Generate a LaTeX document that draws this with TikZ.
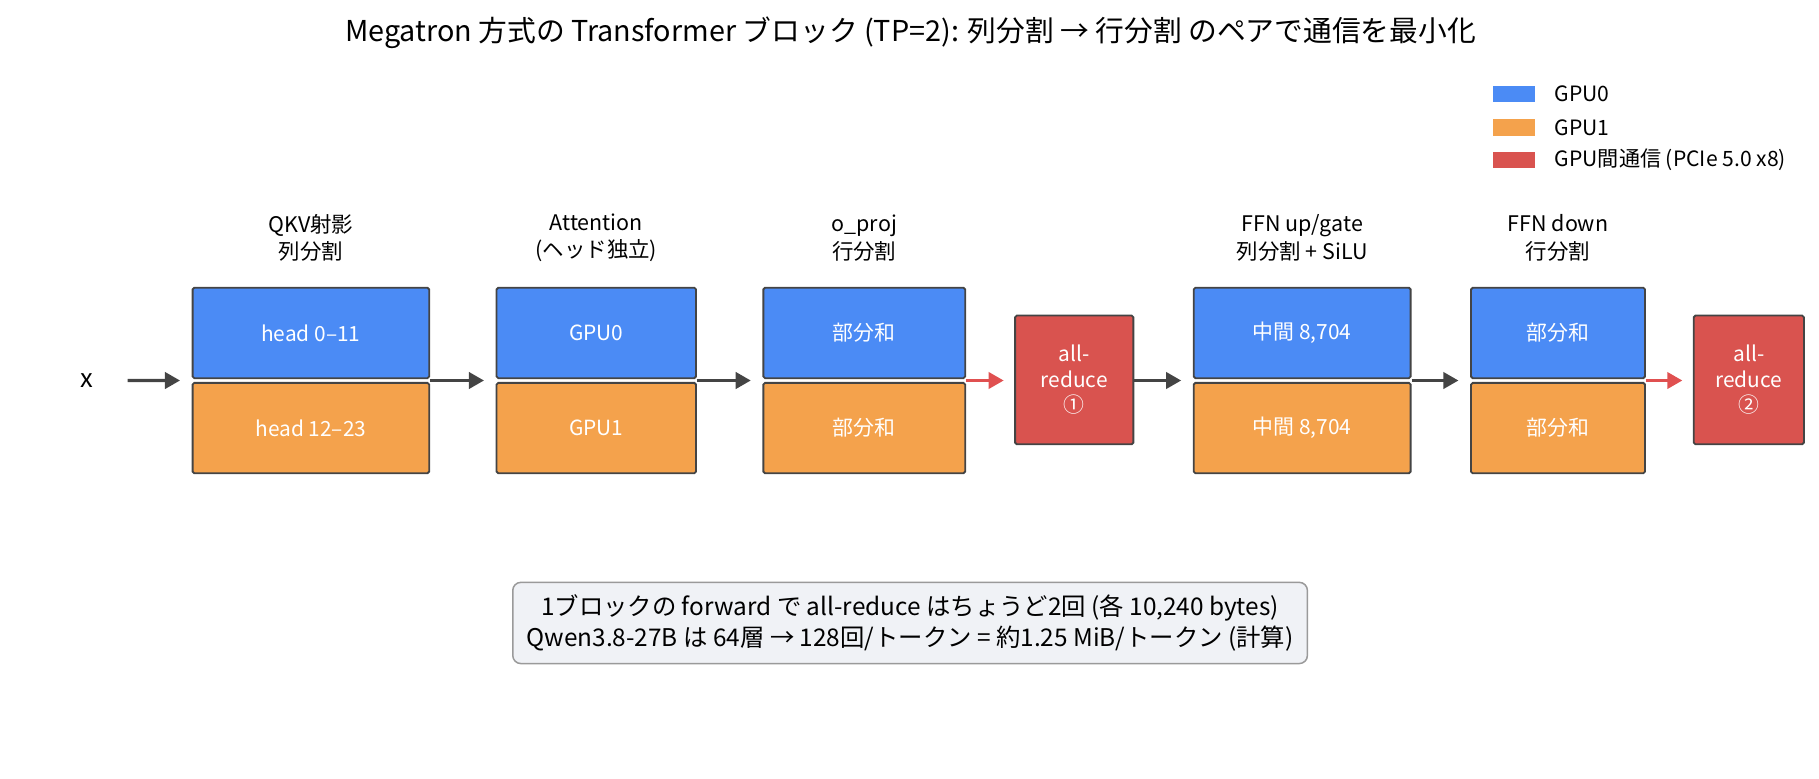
\documentclass[tikz,border=0pt]{standalone}
\usepackage{fontspec}
\setmainfont{Noto Sans CJK JP}
\usetikzlibrary{arrows.meta,calc}
\definecolor{gblue}{HTML}{4B8BF5}
\definecolor{gorange}{HTML}{F4A24C}
\definecolor{gred}{HTML}{D9534F}
\definecolor{edgec}{HTML}{444444}
\definecolor{notefill}{HTML}{F0F2F6}
\definecolor{noteedge}{HTML}{9A9A9A}
\definecolor{arrred}{HTML}{E05050}
\begin{document}
\begin{tikzpicture}[x=1pt,y=-1pt,
  cell/.style={draw=edgec, line width=1.6pt, rounded corners=1.5pt, text=white,
    font=\fontsize{18}{21}\selectfont, inner sep=0pt, minimum height=78pt},
  g0/.style={cell, fill=gblue},
  g1/.style={cell, fill=gorange},
  arbox/.style={draw=edgec, line width=1.6pt, rounded corners=1.5pt, fill=gred, text=white,
    font=\fontsize{18}{22}\selectfont, align=center, inner sep=0pt, minimum height=111pt},
  steplabel/.style={font=\fontsize{18.5}{24}\selectfont, align=center, text=black},
  flow/.style={draw=edgec, line width=2.8pt, -{Triangle[length=13pt,width=14pt]}, shorten >=10pt},
  commflow/.style={draw=arrred, line width=2.8pt, -{Triangle[length=13pt,width=14pt]}, shorten >=9pt},
  swatch/.style={inner sep=0pt, minimum width=36pt, minimum height=14pt},
  legtext/.style={font=\fontsize{18.2}{21}\selectfont, anchor=west, inner sep=0pt},
]
\useasboundingbox (0,0) rectangle (1568,671);

% title
\node[font=\fontsize{24.8}{28}\selectfont] (title) at (785,28) {Megatron 方式の Transformer ブロック (TP=2): 列分割 → 行分割 のペアで通信を最小化};

% legend
\node[swatch, fill=gblue] (lg0) at (1305,81) {};
\node[swatch, fill=gorange] (lg1) at (1305,110) {};
\node[swatch, fill=gred] (lg2) at (1305,138) {};
\node[legtext] (lt0) at (1340,81) {GPU0};
\node[legtext] (lt1) at (1340,110) {GPU1};
\node[legtext] (lt2) at (1340,138) {GPU間通信 (PCIe 5.0 x8)};

% input
\node[font=\fontsize{22}{26}\selectfont] (xin) at (75,328) {x};

% QKV
\node[g0, minimum width=204pt] (q0) at (268,287) {head 0–11};
\node[g1, minimum width=204pt] (q1) at (268,369) {head 12–23};
\node[steplabel] (lq) at (268,205) {QKV射影\\列分割};
% Attention
\node[g0, minimum width=172pt] (a0) at (514,287) {GPU0};
\node[g1, minimum width=172pt] (a1) at (514,369) {GPU1};
\node[steplabel] (la) at (514,205) {Attention\\(ヘッド独立)};
% o_proj
\node[g0, minimum width=174pt] (o0) at (745,287) {部分和};
\node[g1, minimum width=174pt] (o1) at (745,369) {部分和};
\node[steplabel] (lo) at (745,205) {o\_proj\\行分割};
% all-reduce 1
\node[arbox, minimum width=102pt] (r1) at (926,327.5) {all-\\reduce\\①};
% FFN up
\node[g0, minimum width=187pt] (f0) at (1122.5,287) {中間 8,704};
\node[g1, minimum width=187pt] (f1) at (1122.5,369) {中間 8,704};
\node[steplabel] (lf) at (1122.5,205) {FFN up/gate\\列分割 + SiLU};
% FFN down
\node[g0, minimum width=150pt] (d0) at (1343,287) {部分和};
\node[g1, minimum width=150pt] (d1) at (1343,369) {部分和};
\node[steplabel] (ld) at (1343,205) {FFN down\\行分割};
% all-reduce 2
\node[arbox, minimum width=95pt] (r2) at (1507.5,327.5) {all-\\reduce\\②};

% junction points
\coordinate (qL) at ($(q0.south west)!0.5!(q1.north west)$);
\coordinate (qR) at ($(q0.south east)!0.5!(q1.north east)$);
\coordinate (aL) at ($(a0.south west)!0.5!(a1.north west)$);
\coordinate (aR) at ($(a0.south east)!0.5!(a1.north east)$);
\coordinate (oL) at ($(o0.south west)!0.5!(o1.north west)$);
\coordinate (oR) at ($(o0.south east)!0.5!(o1.north east)$);
\coordinate (fL) at ($(f0.south west)!0.5!(f1.north west)$);
\coordinate (fR) at ($(f0.south east)!0.5!(f1.north east)$);
\coordinate (dL) at ($(d0.south west)!0.5!(d1.north west)$);
\coordinate (dR) at ($(d0.south east)!0.5!(d1.north east)$);

% connectors
\draw[flow, shorten <=26pt] (xin.east) -- (qL);
\draw[flow] (qR) -- (aL);
\draw[flow] (aR) -- (oL);
\draw[commflow] (oR) -- (oR -| r1.west);
\draw[flow] (r1.east |- fL) -- (fL);
\draw[flow] (fR) -- (dL);
\draw[commflow] (dR) -- (dR -| r2.west);

% note
\node[draw=noteedge, fill=notefill, line width=1.3pt, rounded corners=7pt,
  minimum width=685pt, minimum height=70pt, align=center,
  font=\fontsize{21}{26}\selectfont] (note) at (784.5,537)
  {1ブロックの forward で all-reduce はちょうど2回 (各 10,240 bytes)\\Qwen3.8-27B は 64層 → 128回/トークン = 約1.25 MiB/トークン (計算)};
\end{tikzpicture}
\end{document}
